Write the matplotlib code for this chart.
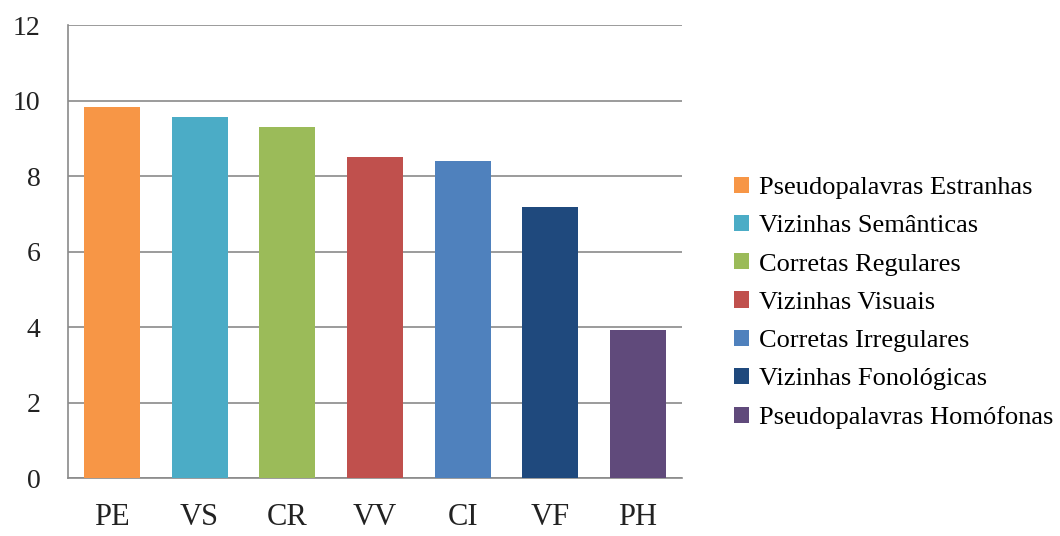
import matplotlib.pyplot as plt
from matplotlib.patches import Patch

''' DATA '''

codes = ['PE', 'VS', 'CR', 'VV', 'CI', 'VF', 'PH']
names = ['Pseudopalavras Estranhas', 'Vizinhas Semânticas', 'Corretas Regulares',
         'Vizinhas Visuais', 'Corretas Irregulares', 'Vizinhas Fonológicas',
         'Pseudopalavras Homófonas']
values = [9.83, 9.58, 9.31, 8.50, 8.41, 7.18, 3.93]
colors = ['#F79646', '#4BACC6', '#9BBB59', '#C0504D', '#4F81BD', '#1F497D', '#604A7B']


''' PLOTTING '''

plt.rcParams['font.family'] = 'Liberation Serif'

fig = plt.figure(figsize=(10.6, 5.36), dpi=100)
ax = fig.add_axes([0.0642, 0.108, 0.579, 0.845])

ax.bar(range(len(codes)), values, width=0.64, color=colors, zorder=3)

ax.set_xlim(-0.5, 6.5)
ax.set_ylim(0, 12)
ax.set_yticks(range(0, 13, 2))
ax.set_xticks(range(len(codes)))
ax.set_xticklabels(codes)
ax.tick_params(axis='y', length=0, pad=20, labelsize=20, labelcolor='#222222')
ax.tick_params(axis='x', length=0, pad=18, labelsize=22, labelcolor='#222222')

ax.grid(axis='y', color='#8a8a8a', linewidth=1.2, zorder=0)
for side in ['top', 'right']:
    ax.spines[side].set_visible(False)
for side in ['left', 'bottom']:
    ax.spines[side].set_color('#8a8a8a')
    ax.spines[side].set_linewidth(1.2)

handles = [Patch(facecolor=c, edgecolor='none') for c in colors]
fig.legend(handles, names, loc='center left', bbox_to_anchor=(0.670, 0.435),
           frameon=False, fontsize=19, handlelength=0.57, handleheight=0.57,
           handletextpad=0.38, labelspacing=0.6)

fig.savefig('out.png', dpi=100)
